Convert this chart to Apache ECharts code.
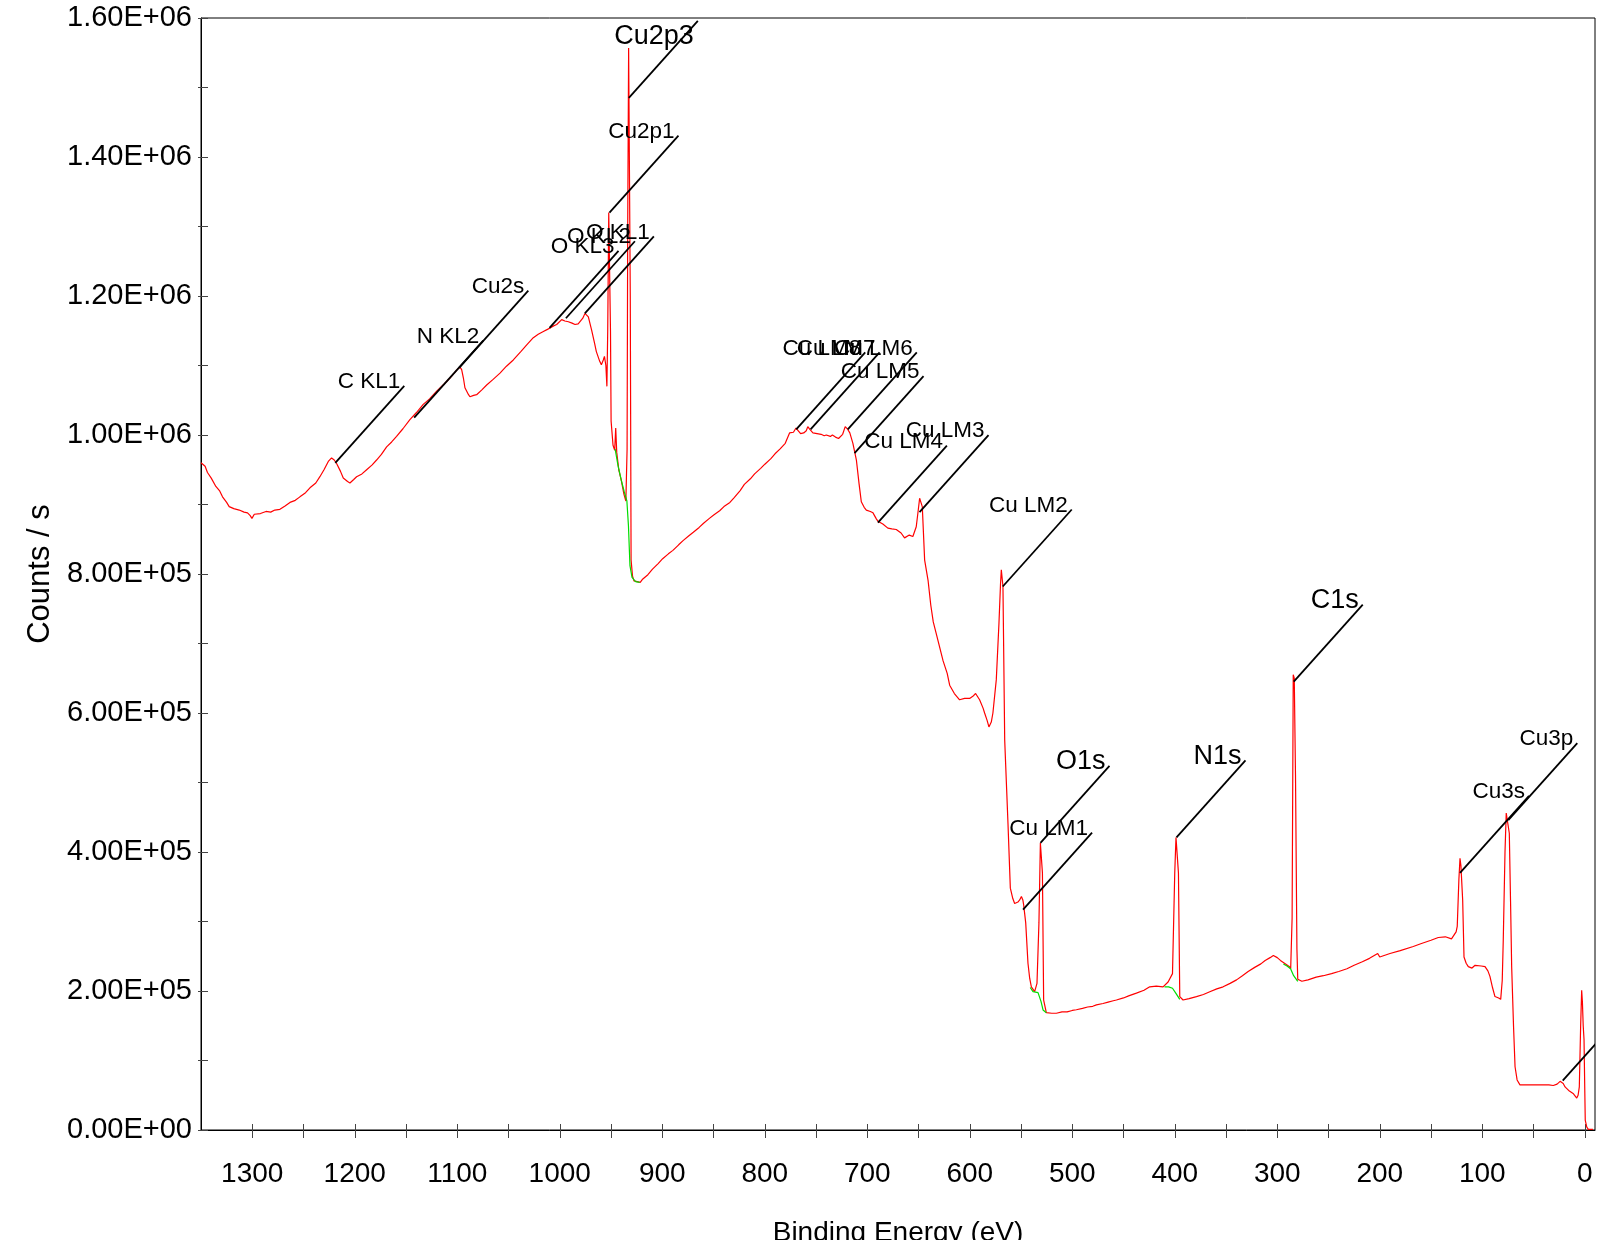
<!DOCTYPE html>
<html><head><meta charset="utf-8">
<script src="https://cdn.jsdelivr.net/npm/echarts@6/dist/echarts.min.js"></script>
<style>html,body{margin:0;padding:0;background:#fff}#chart{width:1600px;height:1240px}</style>
</head><body><div id="chart"></div>
<script>
// ---- Spectrum (binding energy in eV, counts / s) ----
const bindingEnergy = [
1350,1346,1343.7,1340,1335.5,1332,1329,1325,1322.5,1318,1312.7,1308,1304.6,1302,1300.3,1298,1296.4,1292,1286.6,1282,1278,1273,1268,1263.2,1258,1253.5,1248,1243.7,1238,1234,1230,1225.8,1222.6,1220,1217.7,1214,1211.2,1207,1204.7,1201,1198.2,1193,1188.4,1183,1178.7,1174,1168.9,1164,1159.2,1153,1146.2,1140,1133.2,1127,1120.1,1113,1107.1,1103,1099,1097,1095.7,1094,1092.5,1089,1087.6,1084,1081.1,1076,1071.3,1065,1058.3,1052,1045.3,1038,1032,1025.8,1021,1016,1012,1009.5,1006,1003,998.1,995,991.6,988,985.1,982,980.2,977.5,975.4,972.1,968.9,966,964.3,961,959.4,957.5,956.4,955,954,953.2,952.2,951.2,950.5,949.9,948,946.4,945.4,944.4,942.4,940,937.4,935.5,934.3,933.7,932.8,932,931.2,930.4,929,927.5,924.5,921.5,919.5,914,909.5,904,899.6,894,889.6,884,879.7,874,869.7,864,859.7,854,849.8,844,839.8,834,829.8,824,819.9,814,809.9,804,799.9,794,790,785,780,775.8,772,769.5,768,765,762,759.5,758,756,753,749,745,742,740,736,734,731,728,724,721.5,719,717,714,710.6,708,705.8,703,700.9,697,694.4,691,689.6,684.8,679.9,676,671.7,667,663.6,659,655.5,652.2,650,648.9,646.3,644,640.6,638,635.6,633,630.6,626,622,619.6,615,609.9,605,600.1,597,594.3,590.4,587,585.5,583,581.3,579,577.4,574.1,571.5,570,569.2,567.6,565.9,564,562.7,560.4,558,556.2,553,551.3,549.6,548.2,547.4,545.4,543.2,541.5,539.9,536.7,534.4,532.5,531.1,530,529.1,527.9,525.3,520,515.5,510,505,500,496,490,485,480,476.4,470,465,460,456.9,450,445,437.4,430,424.4,418,411.4,406.5,402.2,400,398.8,397.8,396.4,395.1,391.9,386,378.8,372,365.8,359,352.8,346,339.7,334,328.4,322,316,311.8,307,303.8,300,296.9,291.9,288,286.9,285.5,284.4,283.4,282.2,280.8,280,276,270,262,255,247,240,232,225,217,210,202,200,190,180,167.3,160,150,142.9,136,130,128.3,125.5,124.4,122.8,121.7,120.8,119.1,117.8,115.7,113.6,110,107,105.4,101,97.3,94.5,92.5,90,87.6,84,82,80.5,79.5,77.8,76.6,75.5,73.6,72.4,71.3,69.5,68,66,63.2,55,45,35,30.7,27,24,22.5,21,19.2,15,11,7.8,6.5,5.3,4,3,2.3,1.5,0.7,0,-0.5,-2,-3.5,-8
];
const counts = [
960000,955000,946000,938000,926000,920000,911000,903000,897000,894000,892000,889000,888000,884000,880000,886000,888000,887000,890000,889000,892000,893000,898000,903000,906000,911000,917000,924000,931000,940000,950000,962000,967000,964000,959000,948000,938000,933000,931000,936000,940000,944000,950000,957000,964000,972000,983000,990000,998000,1009000,1022000,1032000,1044000,1052000,1063000,1073000,1082000,1089000,1096000,1097000,1094000,1082000,1068000,1058000,1055000,1057000,1058000,1065000,1072000,1080000,1089000,1099000,1108000,1120000,1130000,1140000,1145000,1149000,1152000,1154000,1157000,1159000,1166000,1164000,1163000,1161000,1159000,1160000,1161000,1168000,1175000,1170000,1151000,1132000,1120000,1106000,1101000,1108000,1113000,1100000,1070000,1150000,1320000,1320000,1150000,1020000,985000,978000,1010000,975000,950000,935000,915000,905000,980000,1300000,1557000,1557000,1200000,820000,797000,790000,789000,788000,792000,799000,807000,815000,822000,829000,834000,842000,848000,855000,860000,867000,873000,880000,885000,891000,897000,903000,910000,920000,929000,937000,944000,952000,958000,966000,973000,980000,988000,1003000,1004000,1010000,1011000,1002000,1003000,1006000,1012000,1008000,1003000,1002000,1001000,999000,1000000,998000,1000000,997000,995000,1001000,1012000,1008000,1003000,988000,964000,930000,904000,896000,892000,890000,888000,879000,876000,872000,866000,865000,864000,859000,852000,856000,854000,868000,895000,909000,897000,820000,790000,755000,731000,716000,702000,675000,657000,640000,628000,619000,621000,621000,624000,628000,619000,607000,600000,589000,580000,587000,600000,648000,729000,785000,806000,782000,561000,490000,441000,348000,333000,326000,328000,331000,336000,331000,324000,298000,240000,218000,206000,199000,211000,298000,413000,413000,370000,187000,169000,168000,168000,170000,170000,172000,173000,175000,177000,178000,180000,182000,184000,186000,187000,190000,193000,197000,201000,206000,207000,206000,213000,225000,370000,421000,421000,370000,192000,187000,189000,192000,195000,199000,203000,206000,211000,216000,222000,228000,234000,239000,244000,248000,251000,248000,244000,239000,235000,232000,305000,655000,650000,511000,260000,217000,214000,216000,220000,222000,225000,228000,232000,237000,242000,247000,254000,249000,254000,258000,264000,268000,273000,277000,278000,275000,276000,285000,293000,360000,391000,380000,331000,249000,240000,235000,233000,237000,237000,236000,235000,229000,221000,205000,192000,190000,188000,215000,273000,400000,456000,455000,427000,330000,235000,150000,91000,72000,65000,65000,65000,65000,64000,66000,70000,72000,67000,62000,56000,52000,46000,50000,62000,150000,201000,185000,150000,130000,60000,14000,4000,1000,1000
];

// ---- Background segments (green) under the fitted peaks ----
const bgCu2pEnergy = [946, 943, 940, 937, 934.5, 933, 931.5, 929.5, 926, 922];
const bgCu2pCounts = [980000, 955000, 935000, 918000, 905000, 870000, 812000, 795000, 789000, 788000];
const bgO1sEnergy = [541, 538.3, 533.4, 530.5, 528.5, 525.3];
const bgO1sCounts = [205000, 199000, 197600, 185000, 172700, 168800];
const bgN1sEnergy = [410, 406, 402.2, 399, 395.1];
const bgN1sCounts = [206000, 206000, 204000, 197000, 188000];
const bgC1sEnergy = [294, 290.5, 287, 284, 280];
const bgC1sCounts = [239000, 236000, 232000, 222000, 214000];

// ---- Peak annotations ----
const peakLabels = ['C KL1','N KL2','Cu2s','O KL3','O KL2','O KL1','Cu2p1','Cu2p3','Cu LM8','Cu LM7','Cu LM6','Cu LM5','Cu LM4','Cu LM3','Cu LM2','Cu LM1','O1s','N1s','C1s','Cu3s','Cu3p',''];
const peakEnergy = [1219,1142,1098,1010,994,975.5,951.5,932.6,769.3,755.3,719,712.4,689.6,649,567.8,548,531,398.3,283.9,121.7,74.6,21.5];
const peakCounts = [960000,1025000,1097000,1154000,1168000,1175000,1320000,1485000,1008000,1008000,1008000,974000,874000,889000,782000,317000,413000,421000,645000,370000,446000,71000];
const majorPeaks = ['Cu2p3','O1s','N1s','C1s'];

// ---- Axis ticks ----
const xTickValues = [0,50,100,150,200,250,300,350,400,450,500,550,600,650,700,750,800,850,900,950,1000,1050,1100,1150,1200,1250,1300];
const xLabelValues = [0,100,200,300,400,500,600,700,800,900,1000,1100,1200,1300];
const xTitle = 'Binding Energy (eV)';
const yTitle = 'Counts / s';

const FONT = "'Liberation Sans',Arial,sans-serif";

function zip(a, b) { return a.map((v, i) => [v, b[i]]); }
function sci(v) {
  if (Math.round(v / 1e5) % 2 !== 0) return '';
  const s = Number(v).toExponential(2).toUpperCase();
  return s.replace(/E([+-])(\d)$/, 'E$10$2');
}

const chart = echarts.init(document.getElementById('chart'), null, { renderer: 'canvas' });
const GRID = { left: 201, right: 5, top: 18, bottom: 110, outerBoundsMode: 'none', containLabel: false };
const X0 = { type: 'value', min: -10, max: 1350, inverse: true, splitLine: { show: false } };
const Y0 = { type: 'value', min: 0, max: 1600000, interval: 100000, splitLine: { show: false } };

chart.setOption({
  animation: false,
  backgroundColor: '#fff',
  grid: [
    Object.assign({}, GRID, { show: true, borderColor: '#000', borderWidth: 1, backgroundColor: 'transparent' }),
    Object.assign({}, GRID, { show: false })
  ],
  xAxis: [
    Object.assign({}, X0, {
      gridIndex: 0, position: 'bottom',
      name: xTitle, nameLocation: 'middle', nameGap: 89,
      nameTextStyle: { fontFamily: FONT, fontSize: 28, color: '#000' },
      axisLine: { show: true, onZero: false, lineStyle: { color: '#000', width: 1 } },
      axisTick: { show: true, inside: false, length: 8, customValues: xTickValues, lineStyle: { color: '#444', width: 1 } },
      axisLabel: { show: true, customValues: xLabelValues, margin: 30, fontFamily: FONT, fontSize: 28, color: '#000',
        formatter: function (v) { return String(v); } }
    }),
    Object.assign({}, X0, {
      gridIndex: 1, position: 'bottom',
      axisLine: { show: false, onZero: false },
      axisTick: { show: true, inside: true, length: 6, customValues: xTickValues, lineStyle: { color: '#444', width: 1 } },
      axisLabel: { show: false }
    })
  ],
  yAxis: [
    Object.assign({}, Y0, {
      gridIndex: 0, position: 'left',
      name: yTitle, nameLocation: 'middle', nameGap: 140, nameRotate: 90,
      nameTextStyle: { fontFamily: FONT, fontSize: 31, color: '#000' },
      axisLine: { show: true, onZero: false, lineStyle: { color: '#000', width: 1 } },
      axisTick: { show: true, inside: false, length: 3, lineStyle: { color: '#444', width: 1 } },
      axisLabel: { show: true, margin: 9, fontFamily: FONT, fontSize: 29, color: '#000', formatter: sci }
    }),
    Object.assign({}, Y0, {
      gridIndex: 1, position: 'left',
      axisLine: { show: false, onZero: false },
      axisTick: { show: true, inside: true, length: 7, lineStyle: { color: '#444', width: 1 } },
      axisLabel: { show: false }
    })
  ],
  series: [
    { type: 'line', name: 'spectrum', data: zip(bindingEnergy, counts), showSymbol: false, symbol: 'none',
      lineStyle: { color: '#ff0000', width: 1.2 }, z: 2, clip: true },
    { type: 'line', name: 'bgCu2p', data: zip(bgCu2pEnergy, bgCu2pCounts), showSymbol: false, symbol: 'none', lineStyle: { color: '#00dd00', width: 1.2 }, z: 3 },
    { type: 'line', name: 'bgO1s', data: zip(bgO1sEnergy, bgO1sCounts), showSymbol: false, symbol: 'none', lineStyle: { color: '#00dd00', width: 1.2 }, z: 3 },
    { type: 'line', name: 'bgN1s', data: zip(bgN1sEnergy, bgN1sCounts), showSymbol: false, symbol: 'none', lineStyle: { color: '#00dd00', width: 1.2 }, z: 3 },
    { type: 'line', name: 'bgC1s', data: zip(bgC1sEnergy, bgC1sCounts), showSymbol: false, symbol: 'none', lineStyle: { color: '#00dd00', width: 1.2 }, z: 3 },
    {
      type: 'custom', name: 'peaks', clip: true, z: 5,
      data: peakLabels.map((n, i) => [peakEnergy[i], peakCounts[i], i]),
      renderItem: function (params, api) {
        const p = api.coord([api.value(0), api.value(1)]);
        const name = peakLabels[api.value(2)];
        const big = majorPeaks.indexOf(name) >= 0;
        const fs = big ? 27 : 22.5;
        const ex = p[0] + 69, ey = p[1] - 77;
        const top = params.coordSys.y;
        const ty = Math.max(ey - 4, top + 9 + fs * 0.36);
        return {
          type: 'group',
          children: [
            { type: 'line', shape: { x1: p[0], y1: p[1], x2: ex, y2: ey }, style: { stroke: '#000', lineWidth: 1.8 } },
            { type: 'text', x: ex - 4, y: ty, style: { text: name, fill: '#000', font: fs + 'px ' + FONT, align: 'right', verticalAlign: 'middle' } }
          ]
        };
      }
    }
  ]
});
</script>
</body></html>
